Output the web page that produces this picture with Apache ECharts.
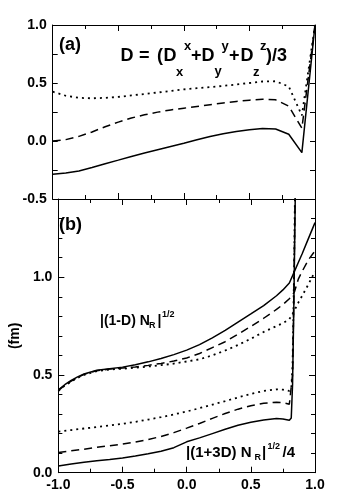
<!DOCTYPE html>
<html>
<head>
<meta charset="utf-8">
<script src="https://cdn.jsdelivr.net/npm/echarts@6/dist/echarts.min.js"></script>
<style>html,body{margin:0;padding:0;background:#fff;}#c{width:350px;height:498px;}</style>
</head>
<body>
<div id="c"></div>
<script>
// ---- Panel (a): D vs x ----
const xTop = [-1,-0.9,-0.8,-0.7,-0.6,-0.5,-0.4,-0.3,-0.2,-0.1,0,0.1,0.2,0.3,0.4,0.5,0.6,0.7,0.8,0.9,1.0];
const topSolid  = [-0.287,-0.276,-0.258,-0.229,-0.196,-0.165,-0.133,-0.104,-0.076,-0.048,-0.02,0.01,0.038,0.062,0.082,0.097,0.108,0.104,0.058,-0.1,1.0];
const topDashed = [0.0,0.012,0.04,0.078,0.123,0.163,0.198,0.226,0.249,0.268,0.283,0.298,0.313,0.328,0.341,0.352,0.36,0.355,0.3,0.11,1.0];
const topDotted = [0.425,0.39,0.372,0.368,0.372,0.38,0.393,0.405,0.418,0.432,0.445,0.455,0.465,0.475,0.487,0.5,0.513,0.515,0.47,0.22,1.0];

// ---- Panel (b): |(1-D) N_R|^1/2 ----
const xUp = [-1,-0.95,-0.9,-0.85,-0.8,-0.7,-0.6,-0.5,-0.4,-0.3,-0.2,-0.1,0,0.1,0.2,0.3,0.4,0.5,0.6,0.7,0.75,0.8,0.84,0.87,0.9,0.95,1.0];
const upSolid  = [0.424,0.45,0.472,0.49,0.505,0.524,0.532,0.54,0.552,0.567,0.584,0.604,0.627,0.655,0.69,0.728,0.77,0.812,0.855,0.905,0.935,0.97,1.03,1.075,1.12,1.2,1.279];
const upDashed = [0.42,0.448,0.468,0.487,0.503,0.522,0.53,0.535,0.541,0.549,0.559,0.571,0.587,0.61,0.64,0.67,0.708,0.748,0.79,0.835,0.86,0.89,0.925,0.99,1.03,1.09,1.135];
const upDotted = [0.418,0.446,0.466,0.485,0.5,0.52,0.528,0.532,0.537,0.543,0.55,0.558,0.569,0.58,0.6,0.625,0.653,0.685,0.72,0.75,0.765,0.785,0.83,0.87,0.905,0.965,1.03];

// ---- Panel (b): |(1+3D) N_R|^1/2 / 4 ----
const xLow = [-1,-0.9,-0.8,-0.7,-0.6,-0.5,-0.4,-0.3,-0.2,-0.1,0,0.1,0.2,0.3,0.4,0.5,0.6,0.7,0.75,0.8,0.815,0.825,0.835,0.85];
const lowSolid  = [0.034,0.044,0.053,0.061,0.067,0.075,0.085,0.097,0.11,0.128,0.158,0.178,0.2,0.222,0.243,0.258,0.27,0.277,0.275,0.268,0.28,0.45,0.85,1.6];
const lowDashed = [0.103,0.112,0.12,0.13,0.138,0.146,0.157,0.17,0.185,0.205,0.228,0.252,0.278,0.303,0.325,0.342,0.355,0.36,0.358,0.35,0.36,0.5,0.9,1.7];
const lowDotted = [0.21,0.218,0.226,0.234,0.242,0.25,0.26,0.272,0.284,0.298,0.313,0.33,0.348,0.366,0.385,0.403,0.418,0.426,0.425,0.418,0.43,0.55,0.95,1.75];

const xTickLabels = ['-1.0','-0.5','0.0','0.5','1.0'];

const FF = '"Liberation Sans", Arial, sans-serif';
const zip = (xs, ys) => xs.map((x, i) => [x, ys[i]]);

function xAx(gi, pos, showLabels) {
  return {
    type: 'value', gridIndex: gi, position: pos, min: -1, max: 1, interval: 0.5,
    axisLine: { show: true, onZero: false, lineStyle: { color: '#000', width: 1 } },
    axisTick: { show: true, inside: true, length: 6, lineStyle: { color: '#000' } },
    minorTick: { show: true, splitNumber: 2, length: 4, lineStyle: { color: '#000' } },
    splitLine: { show: false }, minorSplitLine: { show: false },
    axisLabel: { show: showLabels, margin: 5, color: '#000', fontFamily: FF, fontWeight: 'bold', fontSize: 14,
      formatter: v => { const i = Math.round((v + 1) / 0.5); return xTickLabels[i] || ''; } }
  };
}
function yAx(gi, pos, min, max, interval, tickLen, showLabels, showLine, extra) {
  return Object.assign({
    type: 'value', gridIndex: gi, position: pos, min: min, max: max, interval: interval,
    axisLine: { show: showLine, onZero: false, lineStyle: { color: '#000', width: 1 } },
    axisTick: { show: true, inside: true, length: tickLen, lineStyle: { color: '#000' } },
    splitLine: { show: false },
    axisLabel: { show: showLabels, margin: 6, color: '#000', fontFamily: FF, fontWeight: 'bold', fontSize: 14,
      formatter: v => (Math.abs(v * 2 - Math.round(v * 2)) < 1e-6 && v <= 1.0 + 1e-9) ? v.toFixed(1) : '' }
  }, extra || {});
}

function ser(xa, ya, xs, ys, kind) {
  const ls = { color: '#000', width: 1.5, type: 'solid' };
  if (kind === 'dashed') { ls.type = [8, 5]; ls.width = 1.5; }
  if (kind === 'dotted') { ls.type = [2, 4]; ls.width = 1.8; }
  return { type: 'line', xAxisIndex: xa, yAxisIndex: ya, data: zip(xs, ys), showSymbol: false, symbol: 'none',
    lineStyle: ls, clip: true, animation: false, z: 3 };
}

function T(text, x, y, size) {
  return { type: 'text', x: x, y: y, silent: true, z: 10,
    style: { text: text, fill: '#000', font: 'bold ' + size + 'px ' + FF, align: 'left', verticalAlign: 'middle' } };
}

const chart = echarts.init(document.getElementById('c'), null, { renderer: 'canvas' });
chart.setOption({
  animation: false,
  backgroundColor: '#fff',
  grid: [
    { left: 52.7, top: 25, width: 262.3, height: 174 },
    { left: 52.7, top: 199, width: 262.3, height: 273.7 }
  ],
  xAxis: [
    xAx(0, 'bottom', false),
    xAx(0, 'top', false),
    xAx(1, 'bottom', true),
    xAx(1, 'top', false)
  ],
  yAxis: [
    Object.assign(yAx(0, 'left', -0.5, 1.0, 0.5, 5, true, true),
      { minorTick: { show: true, splitNumber: 2, length: 5, lineStyle: { color: '#000' } } }),
    Object.assign(yAx(0, 'right', -0.5, 1.0, 0.5, 5, false, true),
      { minorTick: { show: true, splitNumber: 2, length: 5, lineStyle: { color: '#000' } } }),
    yAx(1, 'left', 0, 1.4, 0.1, 4, true, true, {
      name: '(fm)', nameLocation: 'middle', nameGap: 19, nameRotate: 90,
      nameTextStyle: { color: '#000', fontFamily: FF, fontWeight: 'bold', fontSize: 14 } }),
    yAx(1, 'left', 0, 1.4, 0.5, 6, false, false),
    yAx(1, 'right', 0, 1.4, 0.1, 4, false, true),
    yAx(1, 'right', 0, 1.4, 0.5, 6, false, false)
  ],
  series: [
    ser(0, 0, xTop, topSolid, 'solid'),
    ser(0, 0, xTop, topDashed, 'dashed'),
    ser(0, 0, xTop, topDotted, 'dotted'),
    ser(2, 2, xUp, upSolid, 'solid'),
    ser(2, 2, xUp, upDashed, 'dashed'),
    ser(2, 2, xUp, upDotted, 'dotted'),
    ser(2, 2, xLow, lowSolid, 'solid'),
    ser(2, 2, xLow, lowDashed, 'dashed'),
    ser(2, 2, xLow, lowDotted, 'dotted')
  ],
  graphic: [
    T('(a)', 59, 45, 18),
    T('(b)', 59, 225, 18),
    // D = (Dx^x + Dy^y + Dz^z)/3
    T('D', 120.5, 56, 18),
    T('=', 139, 56, 18),
    T('(', 157, 56, 18),
    T('D', 163.5, 56, 18),
    T('x', 176, 72, 13),
    T('x', 184, 46, 13),
    T('+', 191, 56, 18),
    T('D', 201.5, 56, 18),
    T('y', 214.5, 71, 13),
    T('y', 221.5, 46, 13),
    T('+', 229, 56, 18),
    T('D', 240.5, 56, 18),
    T('z', 253, 72, 13),
    T('z', 260, 46, 13),
    T(')/3', 266, 56, 18),
    // |(1-D) N_R|^{1/2}
    T('|(1-D) N', 100, 321, 14),
    T('R', 149, 325.5, 9),
    T('|', 157.5, 321, 14),
    T('1/2', 162, 315, 9),
    // |(1+3D) N_R|^{1/2}/4
    T('|(1+3D) N', 186, 452.5, 15),
    T('R', 254.5, 458, 9),
    T('|', 262, 452.5, 15),
    T('1/2', 267.5, 446.5, 9),
    T('/4', 282.5, 452.5, 15)
  ]
});
</script>
</body>
</html>
